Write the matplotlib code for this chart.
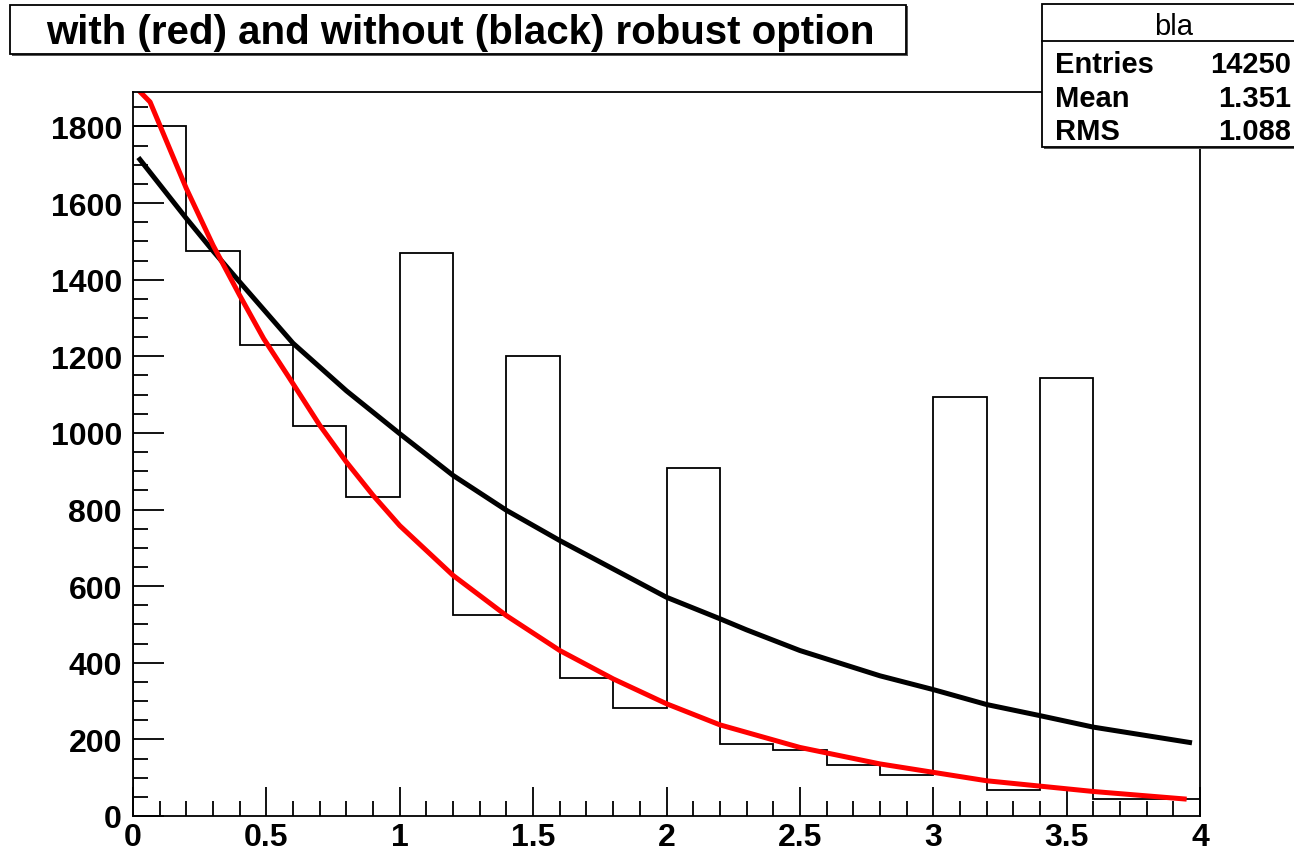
import numpy as np
import matplotlib
matplotlib.use("Agg")
import matplotlib.pyplot as plt
from matplotlib.patches import Rectangle
from matplotlib.ticker import MultipleLocator, FuncFormatter

plt.rcParams['font.family'] = ['Liberation Sans', 'DejaVu Sans']

# histogram "bla": 20 bins of width 0.2 on [0, 4]
bin_edges = np.linspace(0, 4, 21)
counts = [1800, 1476, 1230, 1019, 833, 1471, 525, 1202, 360, 282,
          909, 188, 172, 133, 107, 1095, 68, 1144, 44, 44]

# fit without robust option (black)
black_x = [0.02, 0.2, 0.3, 0.4, 0.6, 0.8, 1.0, 1.2, 1.4, 1.6, 1.8,
           2.0, 2.2, 2.3, 2.5, 2.8, 3.0, 3.2, 3.4, 3.6, 3.97]
black_y = [1719, 1560, 1475, 1394, 1234, 1110, 998, 889, 798, 719, 645,
           571, 515, 486, 432, 366, 330, 291, 262, 232, 191]

# fit with robust option (red)
red_x = [0.02, 0.064, 0.2, 0.3, 0.4, 0.49, 0.58, 0.7, 0.8, 0.9, 1.0, 1.2,
         1.4, 1.6, 1.8, 2.0, 2.2, 2.5, 2.8, 3.0, 3.2, 3.4, 3.6, 3.95]
red_y = [1895, 1864, 1638, 1490, 1359, 1246, 1150, 1020, 924, 837, 758, 628,
         523, 432, 358, 293, 238, 179, 136, 114, 92, 78, 64, 44]

title = "with (red) and without (black) robust option"
stats_name = "bla"
stats_rows = [("Entries", "14250"), ("Mean", "1.351"), ("RMS", "1.088")]

W, H = 1294, 854
fig = plt.figure(figsize=(W / 100, H / 100), dpi=100)
ax = fig.add_axes([133 / W, 1 - 817 / H, (1200 - 133) / W, (817 - 93) / H])

ax.stairs(counts, bin_edges, color='black', lw=1.3, baseline=0)
ax.plot(black_x, black_y, color='black', lw=3.6, solid_capstyle='butt')
ax.plot(red_x, red_y, color='#ff0000', lw=3.6, solid_capstyle='butt')

ax.set_xlim(0, 4)
ax.set_ylim(0, 1890)
ax.xaxis.set_major_locator(MultipleLocator(0.5))
ax.xaxis.set_minor_locator(MultipleLocator(0.1))
ax.yaxis.set_major_locator(MultipleLocator(200))
ax.yaxis.set_minor_locator(MultipleLocator(50))
ax.xaxis.set_major_formatter(FuncFormatter(lambda v, p: "%g" % v))
ax.yaxis.set_major_formatter(FuncFormatter(lambda v, p: "%d" % v))

ax.tick_params(axis='both', which='major', direction='in', length=22,
               width=1.3, labelsize=23)
ax.tick_params(axis='both', which='minor', direction='in', length=10.5,
               width=1.3)
ax.tick_params(axis='x', which='major', length=21, pad=4.5)
ax.tick_params(axis='y', which='major', pad=8)
for lab in ax.get_xticklabels() + ax.get_yticklabels():
    lab.set_fontweight('bold')
for sp in ax.spines.values():
    sp.set_linewidth(1.3)


def fx(px):
    return px / W


def fy(py):
    return 1 - py / H


# title box with ROOT-like shadow
fig.patches.append(Rectangle((fx(12), fy(57)), fx(896), 50 / H, transform=fig.transFigure,
                             facecolor='#555555', edgecolor='none', zorder=1))
fig.patches.append(Rectangle((fx(10), fy(55)), fx(896), 49 / H, transform=fig.transFigure,
                             facecolor='white', edgecolor='black', lw=1.3, zorder=2))
fig.text(fx(460), fy(44), title, ha='center', va='baseline', fontsize=29,
         fontweight='bold', zorder=3)

# stats box
fig.patches.append(Rectangle((fx(1044), fy(150)), fx(260), 145 / H, transform=fig.transFigure,
                             facecolor='#555555', edgecolor='none', zorder=4))
fig.patches.append(Rectangle((fx(1042), fy(148)), fx(260), 143 / H, transform=fig.transFigure,
                             facecolor='white', edgecolor='black', lw=1.3, zorder=5))
fig.lines.append(plt.Line2D([fx(1042), 1], [fy(42), fy(42)], transform=fig.transFigure,
                            color='black', lw=1.3, zorder=6))
fig.text(fx(1174), fy(35), stats_name, ha='center', va='baseline', fontsize=21, zorder=7)
for i, (k, v) in enumerate(stats_rows):
    yy = fy([73, 107, 140][i])
    fig.text(fx(1055), yy, k, ha='left', va='baseline', fontsize=21,
             fontweight='bold', zorder=7)
    fig.text(fx(1291), yy, v, ha='right', va='baseline', fontsize=21,
             fontweight='bold', zorder=7)

fig.savefig("out.png", dpi=100)
